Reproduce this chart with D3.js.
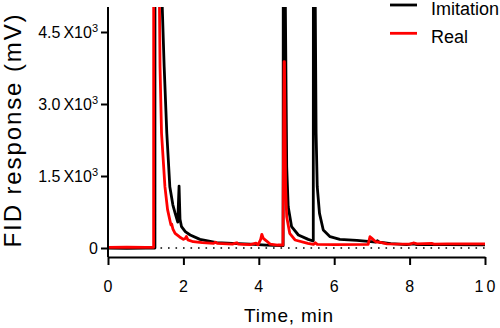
<!DOCTYPE html>
<html>
<head>
<meta charset="utf-8">
<script src="https://cdn.jsdelivr.net/npm/d3@7"></script>
<style>
  html, body { margin: 0; padding: 0; background: #fff; }
  svg { display: block; font-family: "Liberation Sans", Arial, sans-serif; }
</style>
</head>
<body>
<svg id="chart" width="500" height="328"></svg>
<script>
// ---- Data ----
const imitationTime = [0, 0.5, 1.0, 1.2, 1.245, 1.25, 1.42, 1.44, 1.49, 1.56, 1.64, 1.72, 1.78, 1.85, 1.885, 1.91, 1.95, 2.05, 2.18, 2.44, 2.88, 3.3, 3.77, 4.2, 4.6, 4.645, 4.665, 4.70, 4.74, 4.78, 4.87, 5.05, 5.31, 5.42, 5.445, 5.46, 5.49, 5.52, 5.55, 5.61, 5.71, 5.89, 6.15, 6.6, 6.97, 7.1, 7.15, 7.2, 7.5, 7.92, 8.1, 8.2, 9.0, 10.0];
const imitationValues = [0, -5, 0, 0, 0, 30000, 7000, 5000, 3777, 2390, 1277, 900, 725, 540, 1290, 600, 444, 340, 271, 180, 111, 98, 80, 60, 48, 48, 30000, 5500, 1694, 860, 444, 271, 180, 150, 150, 30000, 6000, 2390, 1277, 722, 375, 236, 180, 160, 135, 125, 150, 120, 90, 70, 85, 70, 70, 65];

const realTime = [0, 0.5, 1.0, 1.21, 1.225, 1.315, 1.36, 1.38, 1.42, 1.51, 1.58, 1.64, 1.67, 1.69, 1.72, 1.78, 1.9, 2.0, 2.05, 2.08, 2.12, 2.26, 2.5, 2.8, 2.85, 2.9, 3.3, 3.38, 3.42, 3.46, 3.77, 3.93, 3.95, 3.98, 4.05, 4.08, 4.12, 4.2, 4.3, 4.5, 4.64, 4.67, 4.68, 4.71, 4.74, 4.82, 4.96, 5.3, 5.45, 5.5, 5.55, 6.0, 6.9, 6.95, 7.0, 7.1, 7.2, 7.4, 8.0, 8.1, 8.2, 8.6, 8.65, 9.0, 10.0];
const realValues = [15, 20, 15, 15, 40000, 40000, 5500, 3777, 2390, 1277, 800, 583, 480, 500, 400, 306, 230, 180, 200, 240, 170, 131, 110, 97, 120, 95, 80, 100, 110, 80, 70, 100, 80, 65, 180, 285, 200, 150, 80, 62, 62, 3880, 3880, 1300, 652, 306, 167, 97, 75, 110, 75, 70, 75, 236, 200, 130, 120, 85, 80, 105, 85, 95, 80, 85, 85];

const xTicks = [0, 2, 4, 6, 8, 10];
const yTicks = [0, 1500, 3000, 4500];
const yTickLabels = ["0", "1.5", "3.0", "4.5"];
const seriesNames = ["Imitation", "Real"];
const seriesColors = ["#000000", "#ff0000"];

// ---- Layout ----
const svg = d3.select("#chart");
const x = d3.scaleLinear().domain([0, 10]).range([108, 485]);
const y = d3.scaleLinear().domain([0, 5000]).range([248, 8]);
const xAxisY = 257;

// clip
svg.append("defs").append("clipPath").attr("id", "plotclip")
  .append("rect").attr("x", x(0)).attr("y", 7).attr("width", 385).attr("height", 252);

// dotted zero line
svg.append("line")
  .attr("x1", x(0)).attr("x2", x(10))
  .attr("y1", y(0)).attr("y2", y(0))
  .attr("stroke", "#000").attr("stroke-width", 1.6)
  .attr("stroke-dasharray", "1.6,5.9");

// series
const line = d3.line().x(d => x(d[0])).y(d => y(d[1]));
const imitationData = imitationTime.map((t, i) => [t, imitationValues[i]]);
const realData = realTime.map((t, i) => [t, realValues[i]]);
const g = svg.append("g").attr("clip-path", "url(#plotclip)");
[imitationData, realData].forEach((data, i) => {
  g.append("path").datum(data)
    .attr("d", line)
    .attr("fill", "none")
    .attr("stroke", seriesColors[i])
    .attr("stroke-width", 2.8)
    .attr("stroke-linejoin", "round");
});

// y axis
const yAxis = d3.axisLeft(y).tickValues(yTicks).tickSize(7).tickFormat("");
const yG = svg.append("g").attr("transform", `translate(${x(0)},0)`).call(yAxis);
yG.select(".domain").remove();
yG.selectAll(".tick line").attr("stroke", "#000").attr("stroke-width", 2);
svg.append("line")
  .attr("x1", x(0)).attr("x2", x(0))
  .attr("y1", 7).attr("y2", xAxisY)
  .attr("stroke", "#000").attr("stroke-width", 2);

// y tick labels with superscript
yTicks.forEach((v, i) => {
  const t = svg.append("text")
    .attr("x", 98).attr("y", y(v) + 6)
    .attr("text-anchor", "end")
    .attr("font-size", 16)
    .attr("fill", "#000");
  if (v === 0) {
    t.text(yTickLabels[i]);
  } else {
    t.append("tspan").text(yTickLabels[i]);
    t.append("tspan").attr("dx", 3).text("X10");
    t.append("tspan").attr("font-size", 11).attr("dy", -6).text("3");
  }
});

// x axis
const xAxis = d3.axisBottom(x).tickValues(xTicks).tickSize(8).tickSizeOuter(0).tickFormat("");
const xG = svg.append("g").attr("transform", `translate(0,${xAxisY})`).call(xAxis);
xG.select(".domain").attr("stroke", "#000").attr("stroke-width", 2);
xG.selectAll(".tick line").attr("stroke", "#000").attr("stroke-width", 2);
xTicks.forEach(v => {
  svg.append("text")
    .attr("x", x(v) + 1.5).attr("y", 292)
    .attr("text-anchor", "middle")
    .attr("font-size", 16)
    .attr("letter-spacing", "3px")
    .attr("fill", "#000")
    .text(String(v));
});

// axis titles
svg.append("text")
  .attr("transform", "translate(21,130) rotate(-90)")
  .attr("text-anchor", "middle")
  .attr("font-size", 24)
  .attr("letter-spacing", "1.9px")
  .attr("fill", "#000")
  .text("FID response (mV)");

svg.append("text")
  .attr("x", 289).attr("y", 322)
  .attr("text-anchor", "middle")
  .attr("font-size", 19)
  .attr("letter-spacing", "0.8px")
  .attr("fill", "#000")
  .text("Time, min");

// legend
seriesNames.forEach((name, i) => {
  const ly = 5 + i * 28.3;
  svg.append("line")
    .attr("x1", 390).attr("x2", 417)
    .attr("y1", ly).attr("y2", ly)
    .attr("stroke", seriesColors[i]).attr("stroke-width", 2.8);
  svg.append("text")
    .attr("x", 431).attr("y", ly + 10)
    .attr("font-size", 18)
    .attr("fill", "#000")
    .text(name);
});
</script>
</body>
</html>
